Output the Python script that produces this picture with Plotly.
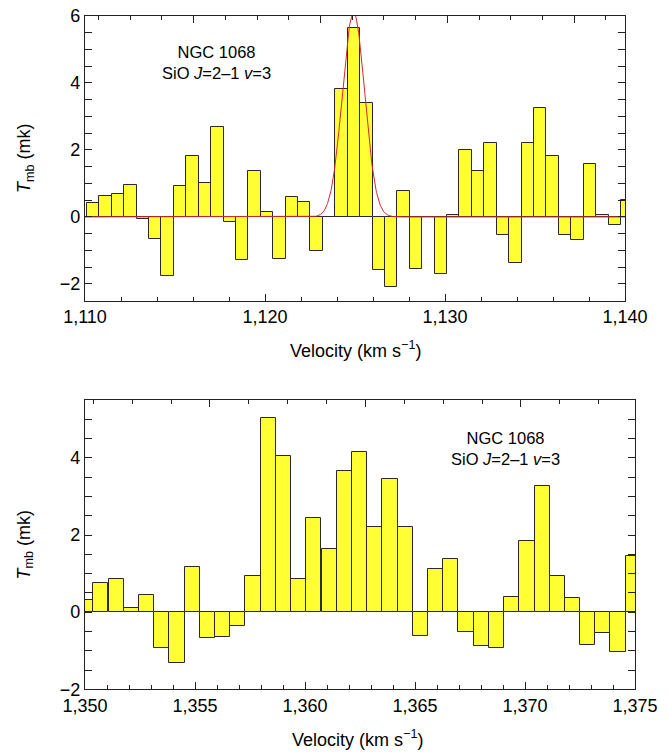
import numpy as np
import plotly.graph_objects as go

# ---------------- data ----------------
top_velocity = [1110.45, 1111.14, 1111.83, 1112.52, 1113.21, 1113.90, 1114.59, 1115.28,
                1115.97, 1116.66, 1117.35, 1118.04, 1118.73, 1119.42, 1120.11, 1120.80,
                1121.49, 1122.18, 1122.87, 1123.56, 1124.25, 1124.94, 1125.63, 1126.32,
                1127.01, 1127.70, 1128.39, 1129.08, 1129.77, 1130.46, 1131.15, 1131.84,
                1132.53, 1133.22, 1133.91, 1134.60, 1135.29, 1135.98, 1136.67, 1137.36,
                1138.05, 1138.74, 1139.43, 1140.12]
top_tmb = [0.42, 0.64, 0.69, 0.95, -0.06, -0.66, -1.75, 0.93, 1.81, 1.01, 2.68, -0.16,
           -1.29, 1.36, 0.14, -1.24, 0.61, 0.45, -1.01, 0.01, 3.83, 5.63, 3.39, -1.57,
           -2.08, 0.78, -1.54, 0.01, -1.71, 0.05, 1.99, 1.38, 2.20, -0.53, -1.37, 2.22,
           3.26, 1.83, -0.53, -0.68, 1.59, 0.05, -0.25, 0.50]

bottom_velocity = [1350.03, 1350.72, 1351.42, 1352.11, 1352.80, 1353.49, 1354.18, 1354.87,
                   1355.56, 1356.26, 1356.95, 1357.64, 1358.33, 1359.02, 1359.71, 1360.40,
                   1361.10, 1361.79, 1362.48, 1363.17, 1363.86, 1364.55, 1365.25, 1365.94,
                   1366.63, 1367.32, 1368.01, 1368.70, 1369.39, 1370.09, 1370.78, 1371.47,
                   1372.16, 1372.85, 1373.54, 1374.23, 1374.93]
bottom_tmb = [0.31, 0.76, 0.87, 0.11, 0.45, -0.92, -1.33, 1.18, -0.67, -0.64, -0.35, 0.93,
              5.03, 4.06, 0.87, 2.43, 1.65, 3.66, 4.15, 2.21, 3.45, 2.21, -0.62, 1.11,
              1.37, -0.51, -0.89, -0.94, 0.40, 1.85, 3.28, 0.95, 0.37, -0.86, -0.55, -1.02,
              1.46]

# Gaussian fit parameters (top panel)
fit_amplitude = 6.1
fit_center = 1124.92
fit_sigma = 0.62

top_xticks = [1110, 1120, 1130, 1140]
top_xticklabels = ["1,110", "1,120", "1,130", "1,140"]
bottom_xticks = [1350, 1355, 1360, 1365, 1370, 1375]
bottom_xticklabels = ["1,350", "1,355", "1,360", "1,365", "1,370", "1,375"]

label_text = "NGC 1068<br>SiO <i>J</i>=2–1 <i>v</i>=3"
x_title = "Velocity (km s<sup>−1</sup>)"
y_title = "<i>T</i><sub>mb</sub> (mk)"

# ---------------- style ----------------
W, H = 668, 753
FONT = "Liberation Sans, Arial, Helvetica, sans-serif"
BAR_FILL = "#FFFF33"
BAR_EDGE = "#2a2a2a"
AX = "#222222"
BIN = 0.69

fit_x = np.linspace(1110, 1140, 1201)
fit_y = fit_amplitude * np.exp(-0.5 * ((fit_x - fit_center) / fit_sigma) ** 2)

fig = go.Figure()
fig.add_trace(go.Bar(x=top_velocity, y=top_tmb, width=BIN, xaxis="x", yaxis="y",
                     marker=dict(color=BAR_FILL, line=dict(color=BAR_EDGE, width=1)),
                     showlegend=False, hoverinfo="x+y"))
fig.add_trace(go.Scatter(x=fit_x, y=fit_y, mode="lines", xaxis="x", yaxis="y",
                         line=dict(color="#d22a2a", width=1), showlegend=False))
fig.add_trace(go.Bar(x=bottom_velocity, y=bottom_tmb, width=BIN, xaxis="x2", yaxis="y2",
                     marker=dict(color=BAR_FILL, line=dict(color=BAR_EDGE, width=1)),
                     showlegend=False, hoverinfo="x+y"))
# invisible traces to carry the top (frequency) tick axes
fig.add_trace(go.Scatter(x=[1110], y=[None], xaxis="x3", yaxis="y", showlegend=False,
                         hoverinfo="skip"))
fig.add_trace(go.Scatter(x=[1350], y=[None], xaxis="x4", yaxis="y2", showlegend=False,
                         hoverinfo="skip"))

top_dom_x = [85 / W, 625 / W]
bot_dom_x = [85 / W, 635 / W]
top_dom_y = [1 - 300.7 / H, 1 - 16 / H]
bot_dom_y = [1 - 689.3 / H, 1 - 400 / H]

tickfont = dict(family=FONT, size=18, color="black")

def xax(dom, rng, tv, tt, minor_dt, anchor):
    return dict(domain=dom, range=rng, anchor=anchor, tickvals=tv, ticktext=tt,
                ticks="inside", ticklen=7, tickwidth=1.2, tickcolor=AX,
                showline=True, linecolor=AX, linewidth=1.3, mirror=True,
                showgrid=False, zeroline=False, tickfont=tickfont, automargin=False,
                minor=dict(dtick=minor_dt, tick0=rng[0], ticks="inside", ticklen=4,
                           tickwidth=1.1, tickcolor=AX, showgrid=False),
                fixedrange=True)

def yax(dom, rng, anchor):
    return dict(domain=dom, range=rng, anchor=anchor, tickvals=[-2, 0, 2, 4, 6],
                ticks="inside", ticklen=7, tickwidth=1.2, tickcolor=AX,
                showline=True, linecolor=AX, linewidth=1.3, mirror="allticks",
                showgrid=False, zeroline=False, tickfont=tickfont, automargin=False,
                minor=dict(dtick=0.5, tick0=0, ticks="inside", ticklen=4,
                           tickwidth=1.1, tickcolor=AX, showgrid=False),
                fixedrange=True)

def topax(dom, rng, t0, dt, over, anchor):
    return dict(domain=dom, range=rng, overlaying=over, anchor=anchor, side="top",
                tick0=t0, dtick=dt * 4, ticks="inside", ticklen=7, tickwidth=1.2,
                tickcolor=AX, showticklabels=False, showline=False, showgrid=False,
                zeroline=False, automargin=False,
                minor=dict(dtick=dt, tick0=t0, ticks="inside", ticklen=4, tickwidth=1.1,
                           tickcolor=AX, showgrid=False),
                fixedrange=True)

fig.update_layout(
    width=W, height=H, margin=dict(l=0, r=0, t=0, b=0, pad=0, autoexpand=False),
    paper_bgcolor="white", plot_bgcolor="white",
    font=dict(family=FONT, color="black"),
    bargap=0, barmode="overlay",
    xaxis=xax(top_dom_x, [1110, 1140], top_xticks, top_xticklabels, 2, "y"),
    yaxis=yax(top_dom_y, [-2.5, 6], "x"),
    xaxis2=xax(bot_dom_x, [1350, 1375], bottom_xticks, bottom_xticklabels, 1, "y2"),
    yaxis2=yax(bot_dom_y, [-2, 5.5], "x2"),
    xaxis3=topax(top_dom_x, [1110, 1140], 1123.08, 1.762, "x", "y"),
    xaxis4=topax(bot_dom_x, [1350, 1375], 1355.68, 1.767, "x2", "y2"),
)

ann_font = dict(family=FONT, size=16.5, color="black")
title_font = dict(family=FONT, size=18, color="black")
annotations = [
    dict(text=label_text, x=216 / W, y=1 - 62.7 / H, font=ann_font),
    dict(text=label_text, x=505.6 / W, y=1 - 448 / H, font=ann_font),
    dict(text=x_title, x=355 / W, y=1 - 349 / H, font=title_font),
    dict(text=x_title, x=358 / W, y=1 - 738 / H, font=title_font),
    dict(text=y_title, x=25 / W, y=1 - 158 / H, font=title_font, textangle=-90),
    dict(text=y_title, x=25 / W, y=1 - 544.5 / H, font=title_font, textangle=-90),
]
for a in annotations:
    a.update(xref="paper", yref="paper", xanchor="center", yanchor="middle",
             showarrow=False, align="center")
fig.update_layout(annotations=annotations)

fig.write_html(
    "out.html",
    config={"displayModeBar": False},
    post_script="document.body.style.margin='0px';document.body.style.padding='0px';"
                "document.body.style.overflow='hidden';",
)
